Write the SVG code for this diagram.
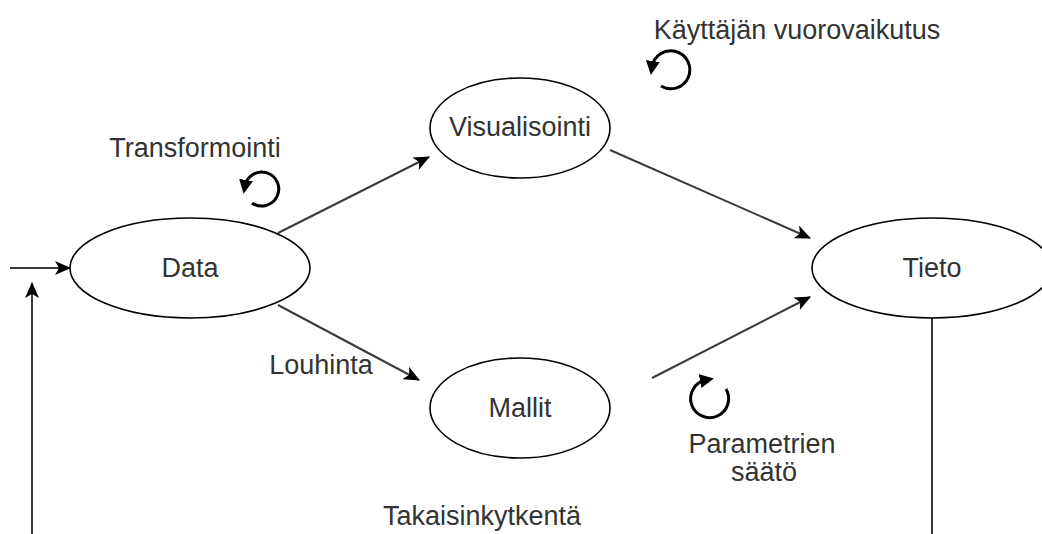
<svg xmlns="http://www.w3.org/2000/svg" width="1042" height="534" viewBox="0 0 1042 534">
  <style>
    .node { fill: #ffffff; stroke: #000000; stroke-width: 1.6; }
    .lbl { font-family: "Liberation Sans", Arial, sans-serif; font-size: 27px; fill: #333333; text-anchor: middle; }
    .edge { fill: none; stroke: #3a3a3a; stroke-width: 2; }
    .cycle { fill: none; stroke: #000000; stroke-width: 3; }
  </style>
  <defs>
    <marker id="arrow" markerUnits="userSpaceOnUse" markerWidth="16" markerHeight="14" viewBox="0 0 16 14" refX="15" refY="7" orient="auto">
      <path d="M0,0 L16,7 L0,14 L4,7 Z" fill="#000000"/>
    </marker>
    <marker id="cyc" markerUnits="userSpaceOnUse" markerWidth="14" markerHeight="14" viewBox="0 0 14 14" refX="6" refY="7" orient="auto">
      <path d="M0,0 L14,7 L0,14 Z" fill="#000000"/>
    </marker>
  </defs>

  <rect width="1042" height="534" fill="#ffffff"/>

  <!-- connectors -->
  <g id="connectors">
    <line class="edge" x1="10" y1="268" x2="70" y2="268" marker-end="url(#arrow)"/>
    <line class="edge" x1="32" y1="534" x2="32" y2="283" marker-end="url(#arrow)"/>
    <line class="edge" x1="932" y1="318" x2="932" y2="534"/>
    <line class="edge" x1="278" y1="233" x2="429" y2="157" marker-end="url(#arrow)"/>
    <line class="edge" x1="610" y1="150" x2="810" y2="238" marker-end="url(#arrow)"/>
    <line class="edge" x1="278" y1="305" x2="419" y2="380" marker-end="url(#arrow)"/>
    <line class="edge" x1="652" y1="378" x2="810" y2="297" marker-end="url(#arrow)"/>
  </g>

  <!-- nodes -->
  <g id="data">
    <ellipse class="node" cx="190" cy="268" rx="120" ry="50"/>
    <text class="lbl" x="190" y="277">Data</text>
  </g>
  <g id="visualisointi">
    <ellipse class="node" cx="520" cy="128" rx="90" ry="50"/>
    <text class="lbl" x="520" y="136">Visualisointi</text>
  </g>
  <g id="mallit">
    <ellipse class="node" cx="520" cy="408" rx="90" ry="50"/>
    <text class="lbl" x="520" y="417">Mallit</text>
  </g>
  <g id="tieto">
    <ellipse class="node" cx="932" cy="268" rx="120" ry="50"/>
    <text class="lbl" x="932" y="277">Tieto</text>
  </g>

  <!-- cycle icons -->
  <g id="cycle-transformointi">
    <path class="cycle" d="M252,203 A17,17 0 1 0 245,186" marker-end="url(#cyc)"/>
  </g>
  <g id="cycle-vuorovaikutus">
    <path class="cycle" d="M661,86 A19,19 0 1 0 652,67" marker-end="url(#cyc)"/>
  </g>
  <g id="cycle-parametrit">
    <path class="cycle" d="M726,389 A19,19 0 1 1 706,380" marker-end="url(#cyc)"/>
  </g>

  <!-- labels -->
  <g id="labels">
    <text class="lbl" x="195" y="157">Transformointi</text>
    <text class="lbl" x="797" y="39">Käyttäjän vuorovaikutus</text>
    <text class="lbl" x="321" y="374">Louhinta</text>
    <text class="lbl" x="762" y="453">Parametrien</text>
    <text class="lbl" x="764" y="481">säätö</text>
    <text class="lbl" x="482" y="525">Takaisinkytkentä</text>
  </g>
</svg>
